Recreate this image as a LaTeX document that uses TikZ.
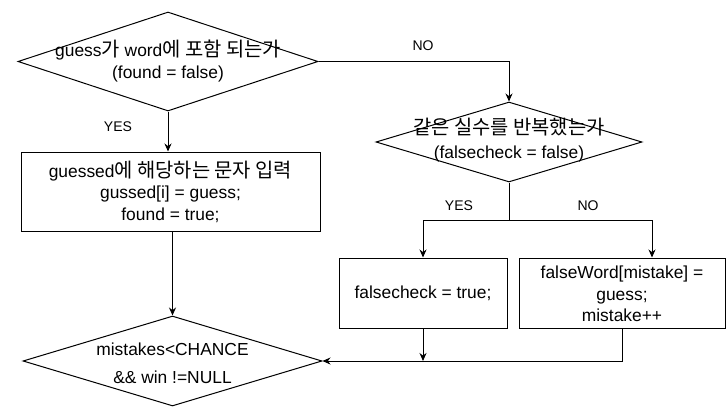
\documentclass[tikz,border=0pt]{standalone}
\usepackage{fontspec}
\setmainfont{Liberation Sans}
\newfontfamily\kr[Scale=1.14]{Noto Sans CJK KR}
\usetikzlibrary{positioning}
\usetikzlibrary{shapes.geometric}
\usetikzlibrary{arrows.meta}

\begin{document}
\begin{tikzpicture}[x=1pt, y=-1pt, line width=1pt, >={Stealth[length=8pt,width=7pt]},
	dia/.style={draw, diamond, inner sep=0pt},
	box/.style={draw, rectangle, inner sep=0pt},
	txt/.style={align=center, font=\fontsize{17.4}{21.5}\selectfont},
	lbl/.style={font=\fontsize{14}{16}\selectfont}]
	    		\useasboundingbox (0,0) rectangle (726,420);
	    		\node[dia, minimum width=300pt, minimum height=99pt] (found) at (168,61.5) {};
	    		\node[txt] (foundtxt) at (168,61) {guess{\kr 가} word{\kr 에 포함 되는가}\\(found = false)};
	    		\node[box, minimum width=299pt, minimum height=79pt] (guessed) at (170.5,191.5) {};
	    		\node[txt] (guessedtxt) at (guessed) {guessed{\kr 에 해당하는 문자 입력}\\gussed[i] = guess;\\found = true;};
	    		\node[dia, minimum width=266pt, minimum height=80pt] (same) at (509,142) {};
	    		\node[txt, font=\fontsize{17.4}{24}\selectfont] (sametxt) at (509,140) {{\kr 같은 실수를 반복했는가}\\(falsecheck = false)};
	    		\node[box, minimum width=168pt, minimum height=70pt] (fc) at (423,293) {};
	    		\node[txt] (fctxt) at (fc) {falsecheck = true;};
	    		\node[box, minimum width=206pt, minimum height=70pt] (fw) at (622,293) {};
	    		\node[txt] (fwtxt) at (622,294) {falseWord[mistake] =\\guess;\\mistake++};
	    		\node[dia, minimum width=299pt, minimum height=90pt] (mist) at (172.5,361) {};
	    		\node[txt, font=\fontsize{17.4}{28}\selectfont] (misttxt) at (172.5,363) {mistakes<CHANCE\\\&\& win !=NULL};
	    		\coordinate (split) at (509,220);
	    		\draw[->] (found.south) -- (found.south |- guessed.north);
	    		\draw[->] (found.east) -| (same.north);
	    		\draw[->] (guessed.south -| mist.north) -- (mist.north);
	    		\draw (same.south) -- (split);
	    		\draw[->] (split) -| (fc.north);
	    		\draw[->] (split) -| ([xshift=30pt]fw.north);
	    		\draw[->] (fc.south) -- (fc.south |- mist.east);
	    		\draw[->] (fw.south) |- (mist.east);
	    		\node[lbl] (yes1) at (118,127) {YES};
	    		\node[lbl] (no1) at (423,46) {NO};
	    		\node[lbl] (yes2) at (459,206) {YES};
	    		\node[lbl] (no2) at (588,206) {NO};
	    	\end{tikzpicture}
\end{document}
